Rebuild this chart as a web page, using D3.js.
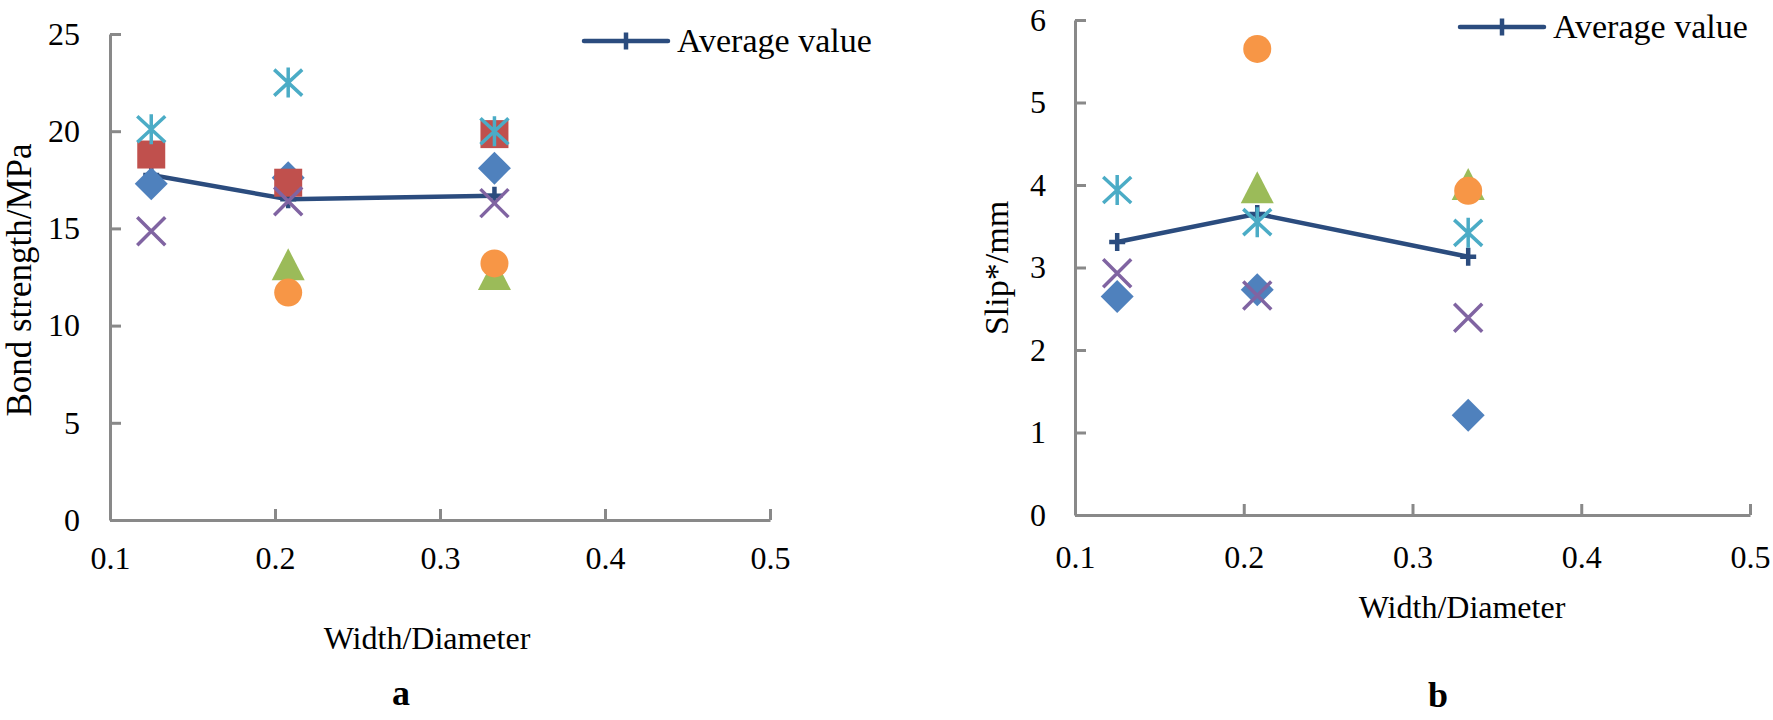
<!DOCTYPE html>
<html>
<head>
<meta charset="utf-8">
<script src="https://cdn.jsdelivr.net/npm/d3@7/dist/d3.min.js"></script>
<style>
  body { margin: 0; background: #fff; }
  svg { display: block; }
  svg text { font-family: "Times New Roman", "Liberation Serif", serif; }
</style>
</head>
<body>
<svg id="chart" width="1773" height="720"></svg>
<script>
// x positions shared by both panels (width / diameter ratio)
const ratios = [0.125, 0.208, 0.333];
const xTicks = [0.1, 0.2, 0.3, 0.4, 0.5];

// panel a: bond strength (MPa)
const bondDiamond  = [17.3, 17.6, 18.1];
const bondSquare   = [18.8, 17.35, 19.85];
const bondTriangle = [null, 13.1, 12.6];
const bondCross    = [14.85, 16.4, 16.3];
const bondStar     = [20.1, 22.5, 20.0];
const bondCircle   = [null, 11.7, 13.2];
const bondAverage  = [17.75, 16.5, 16.68];
const bondTicks    = [0, 5, 10, 15, 20, 25];

// panel b: slip (mm)
const slipDiamond  = [2.65, 2.73, 1.21];
const slipSquare   = [null, null, null];
const slipTriangle = [null, 3.96, 4.0];
const slipCross    = [2.93, 2.66, 2.39];
const slipStar     = [3.94, 3.55, 3.42];
const slipCircle   = [null, 5.65, 3.93];
const slipAverage  = [3.31, 3.65, 3.13];
const slipTicks    = [0, 1, 2, 3, 4, 5, 6];

const legendLabel = "Average value";

// marker look
const MARKERS = {
    diamond:  {d: "M0,-16.5L16.5,0L0,16.5L-16.5,0Z", fill: "#4F81BD"},
    square:   {d: "M-14,-14H14V14H-14Z", fill: "#C0504D"},
    triangle: {d: "M0,-17L16.5,15L-16.5,15Z", fill: "#9BBB59"},
    cross:    {d: "M-14,-14L14,14M14,-14L-14,14", stroke: "#8064A2"},
    star:     {d: "M-14,-13L14,13M14,-13L-14,13M0,-15V15", stroke: "#4BACC6"},
    circle:   {d: "M14,0A14,14 0 1,1 -14,0A14,14 0 1,1 14,0Z", fill: "#F79646"}
};
const AVG_COLOR = "#2B4C7E";
const AXIS_COLOR = "#898989";
const SERIF = "'Times New Roman', 'Liberation Serif', serif";

function drawPanel(svg, p) {
    const g = svg.append("g");

    const x = d3.scaleLinear().domain([0.1, 0.5]).range([p.left, p.right]);
    const y = d3.scaleLinear().domain(p.yDomain).range([p.bottom, p.top]);

    // axes, ticks pointing inward
    const xa = g.append("g")
        .attr("transform", `translate(0,${p.bottom})`)
        .call(d3.axisBottom(x).tickValues(xTicks).tickFormat(d3.format(".1f"))
            .tickSize(-11).tickPadding(p.xPad).tickSizeOuter(0));
    const ya = g.append("g")
        .attr("transform", `translate(${p.left},0)`)
        .call(d3.axisLeft(y).tickValues(p.yTicks).tickFormat(d3.format("d"))
            .tickSize(-11).tickPadding(p.yPad).tickSizeOuter(0));
    [xa, ya].forEach(a => {
        a.attr("font-family", null).attr("font-size", null);
        a.select(".domain").attr("stroke", AXIS_COLOR).attr("stroke-width", 3);
        a.selectAll(".tick line").attr("stroke", AXIS_COLOR).attr("stroke-width", 3);
        a.selectAll("text")
            .style("font-family", SERIF)
            .style("font-size", "32px")
            .attr("fill", "#000");
    });

    // average line
    const pts = ratios.map((r, i) => [r, p.series.average[i]]);
    g.append("path")
        .attr("d", d3.line().x(d => x(d[0])).y(d => y(d[1]))(pts))
        .attr("fill", "none").attr("stroke", AVG_COLOR).attr("stroke-width", 4.5);
    g.selectAll(".avg").data(pts).join("path")
        .attr("class", "avg")
        .attr("transform", d => `translate(${x(d[0])},${y(d[1])})`)
        .attr("d", "M-8,0H8M0,-9V9")
        .attr("stroke", AVG_COLOR).attr("stroke-width", 4.5);

    // scatter series
    ["diamond", "square", "triangle", "cross", "star", "circle"].forEach(k => {
        const m = MARKERS[k];
        const data = ratios.map((r, i) => [r, p.series[k][i]]).filter(d => d[1] != null);
        g.selectAll(".m-" + k).data(data).join("path")
            .attr("class", "m-" + k)
            .attr("transform", d => `translate(${x(d[0])},${y(d[1])})`)
            .attr("d", m.d)
            .attr("fill", m.fill || "none")
            .attr("stroke", m.stroke || "none")
            .attr("stroke-width", 3.5);
    });

    // legend
    const lg = g.append("g").attr("transform", `translate(${p.legX},${p.legY})`);
    lg.append("line").attr("x1", 0).attr("x2", 84)
        .attr("stroke", AVG_COLOR).attr("stroke-width", 4.5).attr("stroke-linecap", "round");
    lg.append("path").attr("d", "M42,-8.5V8.5").attr("stroke", AVG_COLOR).attr("stroke-width", 4.5);
    lg.append("text").attr("x", 93).attr("y", 11).style("font-size", "34px").text(legendLabel);

    // axis titles
    g.append("text")
        .attr("transform", `translate(${p.yTitleX},${p.yTitleY}) rotate(-90)`)
        .attr("text-anchor", "middle").style("font-size", p.yTitleSize + "px").text(p.yTitle);
    g.append("text")
        .attr("x", p.xTitleX).attr("y", p.xTitleY)
        .attr("text-anchor", "middle").style("font-size", "32px").text("Width/Diameter");
    g.append("text")
        .attr("x", p.tagX).attr("y", p.tagY)
        .attr("text-anchor", "middle").style("font-size", "36px").attr("font-weight", "bold")
        .text(p.tag);
}

const svg = d3.select("#chart");

drawPanel(svg, {
    left: 110, right: 770, top: 34, bottom: 520,
    yDomain: [0, 25], yTicks: bondTicks, xPad: 26, yPad: 30,
    series: {diamond: bondDiamond, square: bondSquare, triangle: bondTriangle,
             cross: bondCross, star: bondStar, circle: bondCircle, average: bondAverage},
    legX: 584, legY: 41,
    yTitle: "Bond strength/MPa", yTitleX: 31, yTitleY: 280, yTitleSize: 35,
    xTitleX: 427, xTitleY: 649, tag: "a", tagX: 401, tagY: 705
});

drawPanel(svg, {
    left: 1075, right: 1750, top: 20, bottom: 515,
    yDomain: [0, 6], yTicks: slipTicks, xPad: 30, yPad: 29,
    series: {diamond: slipDiamond, square: slipSquare, triangle: slipTriangle,
             cross: slipCross, star: slipStar, circle: slipCircle, average: slipAverage},
    legX: 1460, legY: 27,
    yTitle: "Slip*/mm", yTitleX: 1008, yTitleY: 268, yTitleSize: 34,
    xTitleX: 1462, xTitleY: 618, tag: "b", tagX: 1438, tagY: 707
});
</script>
</body>
</html>
